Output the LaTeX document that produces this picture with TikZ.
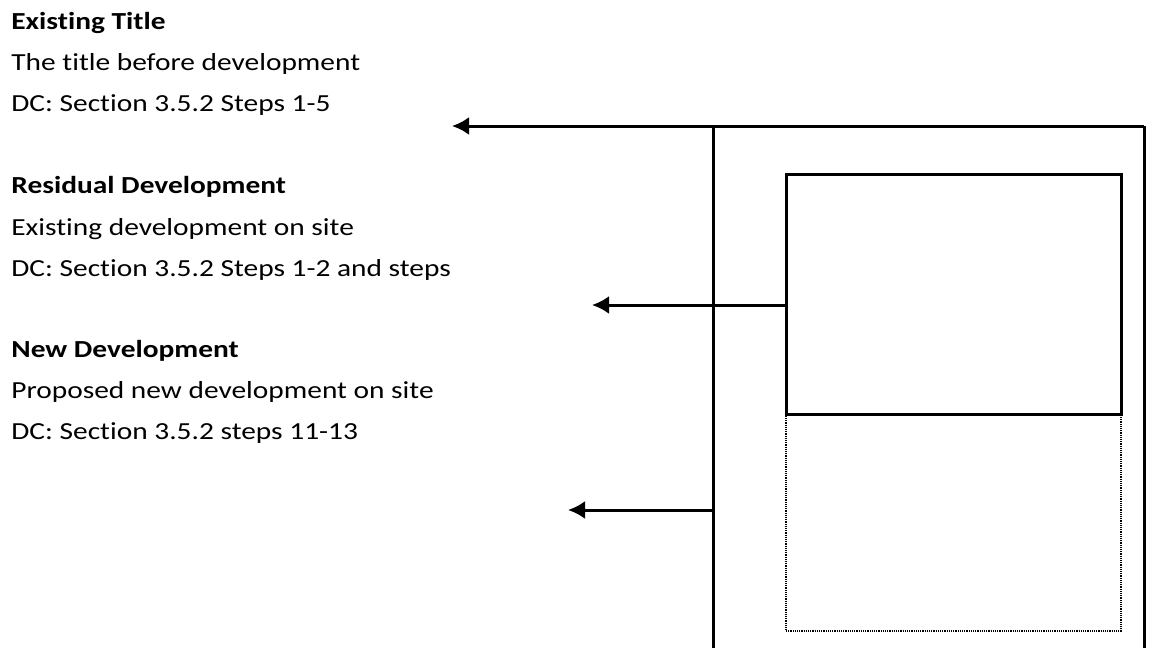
\documentclass[tikz,border=0pt]{standalone}
\usepackage{fontspec}
\setmainfont{Carlito}[FakeStretch=1.2, RawFeature={-liga;-clig}]
\usetikzlibrary{arrows.meta}

\begin{document}
\begin{tikzpicture}[x=1pt, y=-1pt, thick,
    txt/.style={anchor=base west, inner sep=0pt, font=\fontsize{24.5}{30}\selectfont},
    lbl/.style={txt, font=\fontsize{24.5}{30}\selectfont\bfseries},
    solidbox/.style={draw, line width=2.6pt, anchor=north west, minimum width=335pt, minimum height=240pt, inner sep=0pt},
    dotbox/.style={draw, line width=1.8pt, dash pattern=on 1.2pt off 1pt, anchor=north west, minimum width=335pt, minimum height=217pt, inner sep=0pt},
    link/.style={line width=3pt},
    arr/.style={link, -{Latex[length=17pt, width=18pt]}}]
        \useasboundingbox (0,0) rectangle (1152,648);

        % Nodes
        \node (et1) [lbl] at (11,29) {Existing Title};
        \node (et2) [txt] at (11,70) {The title before development};
        \node (et3) [txt] at (11,111) {DC: Section 3.5.2 Steps 1-5};

        \node (rd1) [lbl] at (11,193) {Residual Development};
        \node (rd2) [txt] at (11,235) {Existing development on site};
        \node (rd3) [txt] at (11,276) {DC: Section 3.5.2 Steps 1-2 and steps};

        \node (nd1) [lbl] at (11,357) {New Development};
        \node (nd2) [txt] at (11,398) {Proposed new development on site};
        \node (nd3) [txt] at (11,439) {DC: Section 3.5.2 steps 11-13};

        \node (resid) [solidbox] at (785,173) {};
        \node (newdev) [dotbox] at (785,413) {};

        \coordinate (tl) at (713,126);
        \coordinate (tr) at (1144,126);
        \coordinate (bl) at (713,648);
        \coordinate (br) at (1144,648);
        \coordinate (tip1) at (452,126);
        \coordinate (tip2) at (592,305);
        \coordinate (tip3) at (568,510);

        % Edges
        \draw[link] (tl) -- (bl);
        \draw[link] (tr) -- (br);
        \draw[arr] (tr) -- (tip1);
        \draw[arr] (resid.west |- tip2) -- (tip2);
        \draw[arr] (tl |- tip3) -- (tip3);
    \end{tikzpicture}
\end{document}
